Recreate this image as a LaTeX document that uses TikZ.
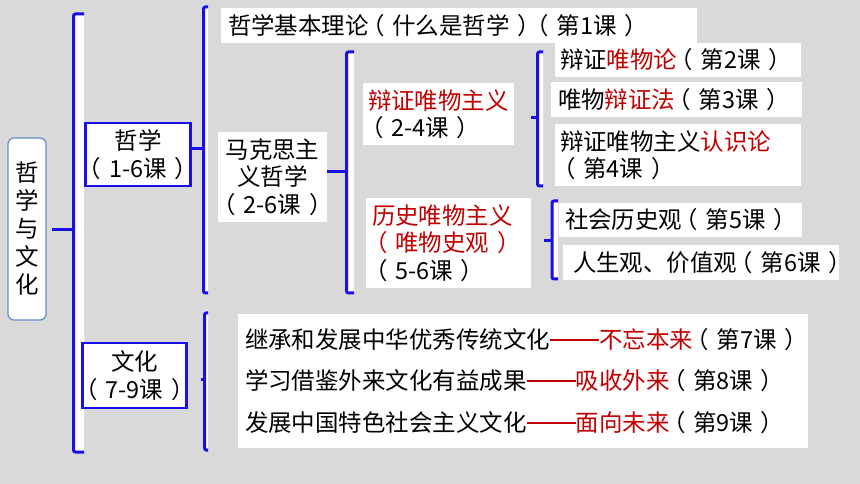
\documentclass[tikz,border=0pt]{standalone}
\usepackage{fontspec}
\setmainfont{Noto Sans CJK SC}
\definecolor{bg}{RGB}{217,217,217}
\definecolor{bblue}{RGB}{25,15,235}
\definecolor{tred}{RGB}{192,0,0}
\definecolor{rootline}{RGB}{100,140,200}
\newcommand\LPa{\makebox[1em][l]{\kern-0.33em（}}
\newcommand\RPa{\makebox[1em][l]{\kern0.33em）}}
\newcommand\DDsh{\rule[0.33em]{2.1em}{0.085em}}
\begin{document}
\begin{tikzpicture}[x=0.75pt,y=-0.75pt,
  brk/.style={draw=bblue, line width=2.25pt, rounded corners=1.5pt, fill=white},
  tick/.style={draw=bblue, line width=2.25pt},
  bx/.style={fill=white, inner ysep=0pt, text=black, font=\fontsize{17.6}{20.6}\selectfont},
  lbox/.style={bx, align=left},
  cbox/.style={bx, align=center, inner xsep=0pt},
  bluebox/.style={cbox, draw=bblue, line width=2pt, font=\fontsize{17.6}{21}\selectfont}]
\fill[bg] (0,0) rectangle (860,484);
\useasboundingbox (0,0) rectangle (860,484);

% brackets
\draw[brk] (84,14) -- (73.5,14) -- (73.5,452) -- (84,452);
\draw[brk] (208,7) -- (203.5,7) -- (203.5,293) -- (208,293);
\draw[brk] (354,52) -- (346.5,52) -- (346.5,293) -- (354,293);
\draw[brk] (543,52) -- (537.5,52) -- (537.5,186) -- (543,186);
\draw[brk] (558,201) -- (552,201) -- (552,279) -- (558,279);
\draw[brk] (208,313) -- (204.5,313) -- (204.5,450) -- (208,450);

% nodes
\node[cbox, draw=rootline, line width=0.9pt, rounded corners=4.5pt,
      minimum width=28.5pt, minimum height=136.5pt,
      font=\fontsize{17.6}{21}\selectfont] (root) at (27,229) {哲\\学\\与\\文\\化};
\node[bluebox, minimum width=75pt, minimum height=47.25pt] (zx) at (138,154.5) {哲学\\\LPa 1-6课\RPa};
\node[bluebox, minimum width=74.25pt, minimum height=48.75pt] (wh) at (134.5,375.5) {文化\\\LPa 7-9课\RPa};

\node[lbox, minimum height=26.25pt, inner xsep=5.25pt, text width=346.5pt] (base) at (459,25.5)
  {哲学基本理论\LPa 什么是哲学\RPa\LPa 第1课\RPa};
\node[cbox, minimum width=81.75pt, minimum height=67.5pt] (mks) at (272.5,177)
  {马克思主\\义哲学\\\LPa 2-6课\RPa};

\node[lbox, minimum height=46.5pt, inner xsep=3.75pt, text width=105.75pt] (bz) at (438.5,114)
  {\textcolor{tred}{辩证唯物主义}\\\LPa 2-4课\RPa};
\node[lbox, minimum height=67.5pt, inner xsep=4.5pt, text width=114.75pt] (ls) at (448.5,243)
  {\textcolor{tred}{历史唯物主义}\\\textcolor{tred}{\LPa 唯物史观\RPa}\\\LPa 5-6课\RPa};

\node[lbox, minimum height=25.5pt, inner xsep=3.75pt, text width=177pt] (b2) at (678,60)
  {辩证\textcolor{tred}{唯物论}\LPa 第2课\RPa};
\node[lbox, minimum height=26.25pt, inner xsep=5.25pt, text width=177.75pt] (b3) at (676.5,99.5)
  {唯物\textcolor{tred}{辩证法}\LPa 第3课\RPa};
\node[lbox, minimum height=46.5pt, inner xsep=3.75pt, text width=177pt] (b4) at (678,155)
  {辩证唯物主义\textcolor{tred}{认识论}\\\LPa 第4课\RPa};
\node[lbox, minimum height=25.5pt, inner xsep=4.5pt, text width=173.25pt] (b5) at (680.5,220)
  {社会历史观\LPa 第5课\RPa};
\node[lbox, minimum height=26.25pt, inner xsep=7.5pt, text width=192pt] (b6) at (701,262.5)
  {人生观、价值观\LPa 第6课\RPa};

\node[lbox, minimum height=100.5pt, inner xsep=5.25pt, text width=417pt,
      font=\fontsize{17.6}{31}\selectfont] (cul) at (523,381)
  {继承和发展中华优秀传统文化\textcolor{tred}{\DDsh 不忘本来}\LPa 第7课\RPa\\
   学习借鉴外来文化有益成果\textcolor{tred}{\DDsh 吸收外来}\LPa 第8课\RPa\\
   发展中国特色社会主义文化\textcolor{tred}{\DDsh 面向未来}\LPa 第9课\RPa};

% ticks
\coordinate (t1) at (52,230);
\coordinate (t4) at (531,118);
\coordinate (t5) at (544,241);
\coordinate (t6) at (201,380);
\draw[tick] (t1) -- (73.5,230);
\draw[tick] (zx.east |- 0,149) -- (203.5,149);
\draw[tick] (mks.east |- 0,171.5) -- (346.5,171.5);
\draw[tick] (t4) -- (537.5,118);
\draw[tick] (t5) -- (552,241);
\draw[tick] (t6) -- (204.5,380);
\end{tikzpicture}
\end{document}
